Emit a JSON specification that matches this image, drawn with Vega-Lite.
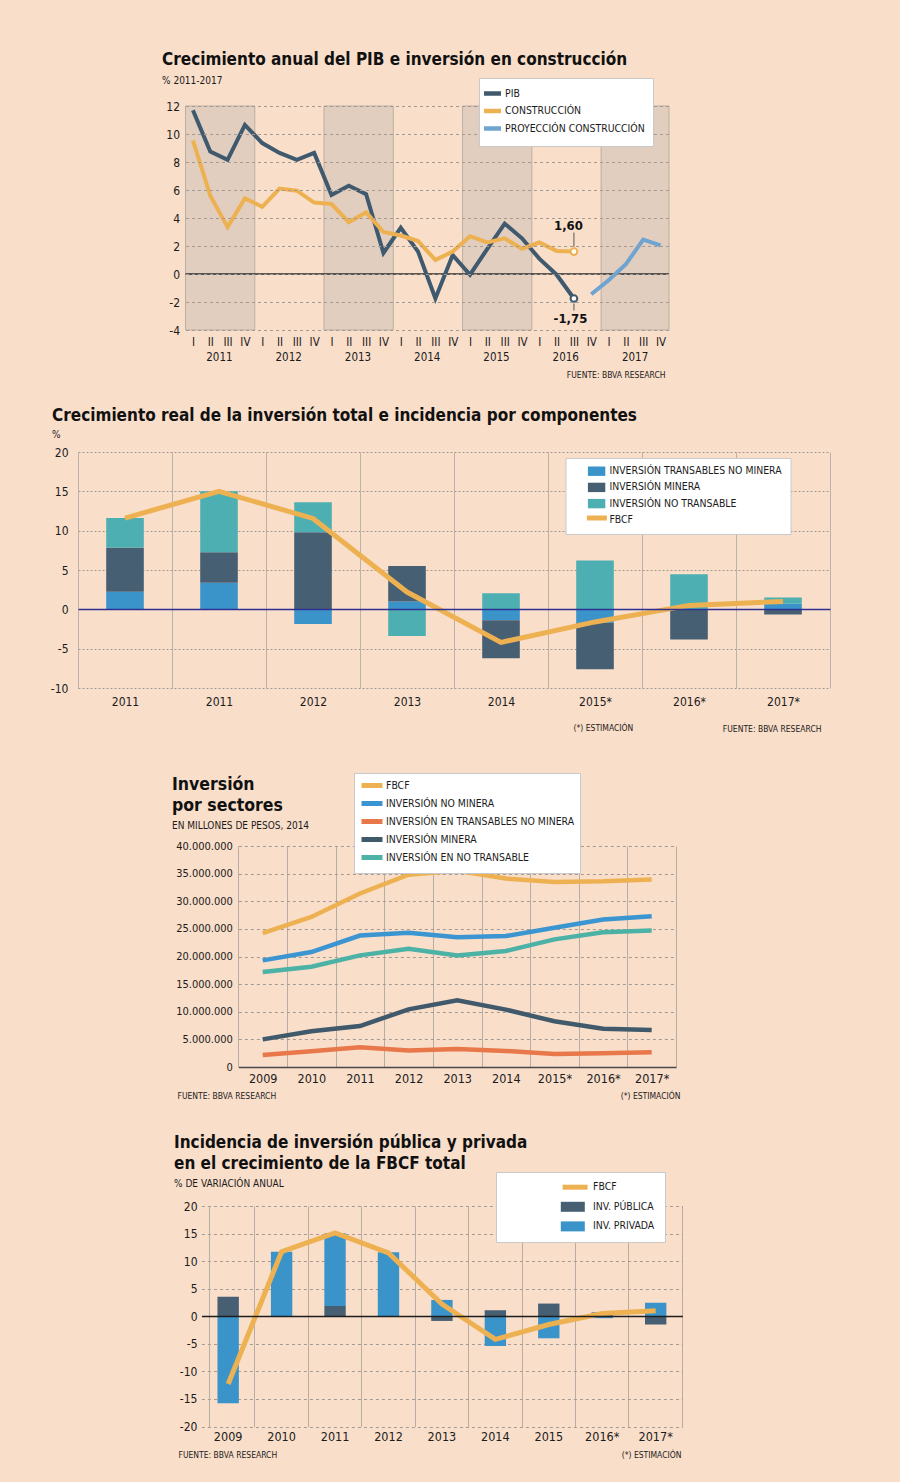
{
  "$schema": "https://vega.github.io/schema/vega-lite/v6.json",
  "background": "#F9DECA",
  "padding": 0,
  "bounds": "flush",
  "spacing": 0,
  "config": {
    "font": "DejaVu Sans Condensed",
    "view": {"stroke": null},
    "axis": {"labelColor": "#1b1b1b", "titleColor": "#1b1b1b", "titleFontWeight": "normal", "ticks": false, "domain": false, "labelFontSize": 12, "labelOverlap": false},
    "legend": {"labelColor": "#1b1b1b", "fillColor": "#ffffff", "strokeColor": "#c9c9c9", "labelFontSize": 10.4, "labelLimit": 320, "zindex": 2},
    "title": {"fontSize": 17, "fontWeight": "bold", "color": "#111111", "anchor": "start", "frame": "group", "subtitleFontSize": 10, "subtitleColor": "#1b1b1b"}
  },
  "datasets": {
    "p1bands": [
      {"x0": -0.43, "x1": 3.57}, {"x0": 7.57, "x1": 11.57}, {"x0": 15.57, "x1": 19.57}, {"x0": 23.57, "x1": 27.49}
    ],
    "p1": [
      {"q": 0, "s": "PIB", "v": 11.7}, {"q": 1, "s": "PIB", "v": 8.75}, {"q": 2, "s": "PIB", "v": 8.15}, {"q": 3, "s": "PIB", "v": 10.65},
      {"q": 4, "s": "PIB", "v": 9.35}, {"q": 5, "s": "PIB", "v": 8.65}, {"q": 6, "s": "PIB", "v": 8.15}, {"q": 7, "s": "PIB", "v": 8.65},
      {"q": 8, "s": "PIB", "v": 5.65}, {"q": 9, "s": "PIB", "v": 6.3}, {"q": 10, "s": "PIB", "v": 5.7}, {"q": 11, "s": "PIB", "v": 1.5},
      {"q": 12, "s": "PIB", "v": 3.3}, {"q": 13, "s": "PIB", "v": 1.6}, {"q": 14, "s": "PIB", "v": -1.75}, {"q": 15, "s": "PIB", "v": 1.35},
      {"q": 16, "s": "PIB", "v": -0.05}, {"q": 17, "s": "PIB", "v": 1.8}, {"q": 18, "s": "PIB", "v": 3.6}, {"q": 19, "s": "PIB", "v": 2.55},
      {"q": 20, "s": "PIB", "v": 1.1}, {"q": 21, "s": "PIB", "v": -0.05}, {"q": 22, "s": "PIB", "v": -1.75},
      {"q": 0, "s": "CONSTRUCCIÓN", "v": 9.55}, {"q": 1, "s": "CONSTRUCCIÓN", "v": 5.6}, {"q": 2, "s": "CONSTRUCCIÓN", "v": 3.35}, {"q": 3, "s": "CONSTRUCCIÓN", "v": 5.4},
      {"q": 4, "s": "CONSTRUCCIÓN", "v": 4.8}, {"q": 5, "s": "CONSTRUCCIÓN", "v": 6.1}, {"q": 6, "s": "CONSTRUCCIÓN", "v": 5.95}, {"q": 7, "s": "CONSTRUCCIÓN", "v": 5.1},
      {"q": 8, "s": "CONSTRUCCIÓN", "v": 5.0}, {"q": 9, "s": "CONSTRUCCIÓN", "v": 3.7}, {"q": 10, "s": "CONSTRUCCIÓN", "v": 4.4}, {"q": 11, "s": "CONSTRUCCIÓN", "v": 3.0},
      {"q": 12, "s": "CONSTRUCCIÓN", "v": 2.75}, {"q": 13, "s": "CONSTRUCCIÓN", "v": 2.35}, {"q": 14, "s": "CONSTRUCCIÓN", "v": 1.0}, {"q": 15, "s": "CONSTRUCCIÓN", "v": 1.6},
      {"q": 16, "s": "CONSTRUCCIÓN", "v": 2.7}, {"q": 17, "s": "CONSTRUCCIÓN", "v": 2.25}, {"q": 18, "s": "CONSTRUCCIÓN", "v": 2.55}, {"q": 19, "s": "CONSTRUCCIÓN", "v": 1.8},
      {"q": 20, "s": "CONSTRUCCIÓN", "v": 2.25}, {"q": 21, "s": "CONSTRUCCIÓN", "v": 1.65}, {"q": 22, "s": "CONSTRUCCIÓN", "v": 1.6},
      {"q": 23, "s": "PROYECCIÓN CONSTRUCCIÓN", "v": -1.45}, {"q": 24, "s": "PROYECCIÓN CONSTRUCCIÓN", "v": -0.45}, {"q": 25, "s": "PROYECCIÓN CONSTRUCCIÓN", "v": 0.7},
      {"q": 26, "s": "PROYECCIÓN CONSTRUCCIÓN", "v": 2.45}, {"q": 27, "s": "PROYECCIÓN CONSTRUCCIÓN", "v": 2.05}
    ],
    "p1pts": [
      {"q": 22, "v": 1.6, "s": "CONSTRUCCIÓN", "t": "1,60"},
      {"q": 22, "v": -1.75, "s": "PIB", "t": "-1,75"}
    ],
    "p2": [
      {"k": "2011", "s": "INVERSIÓN TRANSABLES NO MINERA", "o": 1, "v": 2.24},
      {"k": "2011", "s": "INVERSIÓN MINERA", "o": 2, "v": 5.58},
      {"k": "2011", "s": "INVERSIÓN NO TRANSABLE", "o": 3, "v": 3.78},
      {"k": "2011 ", "s": "INVERSIÓN TRANSABLES NO MINERA", "o": 1, "v": 3.38},
      {"k": "2011 ", "s": "INVERSIÓN MINERA", "o": 2, "v": 3.89},
      {"k": "2011 ", "s": "INVERSIÓN NO TRANSABLE", "o": 3, "v": 7.73},
      {"k": "2012", "s": "INVERSIÓN TRANSABLES NO MINERA", "o": 1, "v": -1.85},
      {"k": "2012", "s": "INVERSIÓN MINERA", "o": 2, "v": 9.8},
      {"k": "2012", "s": "INVERSIÓN NO TRANSABLE", "o": 3, "v": 3.8},
      {"k": "2013", "s": "INVERSIÓN TRANSABLES NO MINERA", "o": 1, "v": 0.98},
      {"k": "2013", "s": "INVERSIÓN MINERA", "o": 2, "v": 4.54},
      {"k": "2013", "s": "INVERSIÓN NO TRANSABLE", "o": 3, "v": -3.4},
      {"k": "2014", "s": "INVERSIÓN TRANSABLES NO MINERA", "o": 1, "v": -1.38},
      {"k": "2014", "s": "INVERSIÓN MINERA", "o": 2, "v": -4.85},
      {"k": "2014", "s": "INVERSIÓN NO TRANSABLE", "o": 3, "v": 2.05},
      {"k": "2015*", "s": "INVERSIÓN TRANSABLES NO MINERA", "o": 1, "v": -1.72},
      {"k": "2015*", "s": "INVERSIÓN MINERA", "o": 2, "v": -5.9},
      {"k": "2015*", "s": "INVERSIÓN NO TRANSABLE", "o": 3, "v": 6.2},
      {"k": "2016*", "s": "INVERSIÓN MINERA", "o": 2, "v": -3.85},
      {"k": "2016*", "s": "INVERSIÓN NO TRANSABLE", "o": 3, "v": 4.45},
      {"k": "2017*", "s": "INVERSIÓN TRANSABLES NO MINERA", "o": 1, "v": 0.7},
      {"k": "2017*", "s": "INVERSIÓN MINERA", "o": 2, "v": -0.65},
      {"k": "2017*", "s": "INVERSIÓN NO TRANSABLE", "o": 3, "v": 0.8}
    ],
    "p2f": [
      {"k": "2011", "s": "FBCF", "v": 11.6}, {"k": "2011 ", "s": "FBCF", "v": 15.0}, {"k": "2012", "s": "FBCF", "v": 11.55},
      {"k": "2013", "s": "FBCF", "v": 2.2}, {"k": "2014", "s": "FBCF", "v": -4.2}, {"k": "2015*", "s": "FBCF", "v": -1.6},
      {"k": "2016*", "s": "FBCF", "v": 0.5}, {"k": "2017*", "s": "FBCF", "v": 1.0}
    ],
    "p3": [
      {"k": "2009", "s": "FBCF", "v": 24250000}, {"k": "2010", "s": "FBCF", "v": 27150000}, {"k": "2011", "s": "FBCF", "v": 31400000},
      {"k": "2012", "s": "FBCF", "v": 34800000}, {"k": "2013", "s": "FBCF", "v": 35500000}, {"k": "2014", "s": "FBCF", "v": 34100000},
      {"k": "2015*", "s": "FBCF", "v": 33500000}, {"k": "2016*", "s": "FBCF", "v": 33600000}, {"k": "2017*", "s": "FBCF", "v": 33950000},
      {"k": "2009", "s": "INVERSIÓN NO MINERA", "v": 19300000}, {"k": "2010", "s": "INVERSIÓN NO MINERA", "v": 20800000}, {"k": "2011", "s": "INVERSIÓN NO MINERA", "v": 23800000},
      {"k": "2012", "s": "INVERSIÓN NO MINERA", "v": 24300000}, {"k": "2013", "s": "INVERSIÓN NO MINERA", "v": 23500000}, {"k": "2014", "s": "INVERSIÓN NO MINERA", "v": 23700000},
      {"k": "2015*", "s": "INVERSIÓN NO MINERA", "v": 25200000}, {"k": "2016*", "s": "INVERSIÓN NO MINERA", "v": 26700000}, {"k": "2017*", "s": "INVERSIÓN NO MINERA", "v": 27300000},
      {"k": "2009", "s": "INVERSIÓN EN TRANSABLES NO MINERA", "v": 2170000}, {"k": "2010", "s": "INVERSIÓN EN TRANSABLES NO MINERA", "v": 2840000}, {"k": "2011", "s": "INVERSIÓN EN TRANSABLES NO MINERA", "v": 3560000},
      {"k": "2012", "s": "INVERSIÓN EN TRANSABLES NO MINERA", "v": 3000000}, {"k": "2013", "s": "INVERSIÓN EN TRANSABLES NO MINERA", "v": 3260000}, {"k": "2014", "s": "INVERSIÓN EN TRANSABLES NO MINERA", "v": 2900000},
      {"k": "2015*", "s": "INVERSIÓN EN TRANSABLES NO MINERA", "v": 2350000}, {"k": "2016*", "s": "INVERSIÓN EN TRANSABLES NO MINERA", "v": 2470000}, {"k": "2017*", "s": "INVERSIÓN EN TRANSABLES NO MINERA", "v": 2650000},
      {"k": "2009", "s": "INVERSIÓN MINERA", "v": 5000000}, {"k": "2010", "s": "INVERSIÓN MINERA", "v": 6460000}, {"k": "2011", "s": "INVERSIÓN MINERA", "v": 7420000},
      {"k": "2012", "s": "INVERSIÓN MINERA", "v": 10440000}, {"k": "2013", "s": "INVERSIÓN MINERA", "v": 12070000}, {"k": "2014", "s": "INVERSIÓN MINERA", "v": 10380000},
      {"k": "2015*", "s": "INVERSIÓN MINERA", "v": 8270000}, {"k": "2016*", "s": "INVERSIÓN MINERA", "v": 6940000}, {"k": "2017*", "s": "INVERSIÓN MINERA", "v": 6700000},
      {"k": "2009", "s": "INVERSIÓN EN NO TRANSABLE", "v": 17200000}, {"k": "2010", "s": "INVERSIÓN EN NO TRANSABLE", "v": 18160000}, {"k": "2011", "s": "INVERSIÓN EN NO TRANSABLE", "v": 20200000},
      {"k": "2012", "s": "INVERSIÓN EN NO TRANSABLE", "v": 21400000}, {"k": "2013", "s": "INVERSIÓN EN NO TRANSABLE", "v": 20200000}, {"k": "2014", "s": "INVERSIÓN EN NO TRANSABLE", "v": 21000000},
      {"k": "2015*", "s": "INVERSIÓN EN NO TRANSABLE", "v": 23100000}, {"k": "2016*", "s": "INVERSIÓN EN NO TRANSABLE", "v": 24400000}, {"k": "2017*", "s": "INVERSIÓN EN NO TRANSABLE", "v": 24700000}
    ],
    "p4": [
      {"k": "2009", "s": "INV. PÚBLICA", "o": 1, "v": 3.56}, {"k": "2009", "s": "INV. PRIVADA", "o": 2, "v": -15.8},
      {"k": "2010", "s": "INV. PRIVADA", "o": 2, "v": 11.7},
      {"k": "2011", "s": "INV. PÚBLICA", "o": 1, "v": 1.87}, {"k": "2011", "s": "INV. PRIVADA", "o": 2, "v": 13.2},
      {"k": "2012", "s": "INV. PRIVADA", "o": 2, "v": 11.6},
      {"k": "2013", "s": "INV. PÚBLICA", "o": 1, "v": -0.85}, {"k": "2013", "s": "INV. PRIVADA", "o": 2, "v": 2.96},
      {"k": "2014", "s": "INV. PÚBLICA", "o": 1, "v": 1.09}, {"k": "2014", "s": "INV. PRIVADA", "o": 2, "v": -5.4},
      {"k": "2015", "s": "INV. PÚBLICA", "o": 1, "v": 2.3}, {"k": "2015", "s": "INV. PRIVADA", "o": 2, "v": -4.0},
      {"k": "2016*", "s": "INV. PÚBLICA", "o": 1, "v": 0.7}, {"k": "2016*", "s": "INV. PRIVADA", "o": 2, "v": -0.35},
      {"k": "2017*", "s": "INV. PÚBLICA", "o": 1, "v": -1.5}, {"k": "2017*", "s": "INV. PRIVADA", "o": 2, "v": 2.45}
    ],
    "p4f": [
      {"k": "2009", "s": "FBCF", "v": -12.3}, {"k": "2010", "s": "FBCF", "v": 11.7}, {"k": "2011", "s": "FBCF", "v": 15.1},
      {"k": "2012", "s": "FBCF", "v": 11.5}, {"k": "2013", "s": "FBCF", "v": 2.2}, {"k": "2014", "s": "FBCF", "v": -4.2},
      {"k": "2015", "s": "FBCF", "v": -1.5}, {"k": "2016*", "s": "FBCF", "v": 0.5}, {"k": "2017*", "s": "FBCF", "v": 1.0}
    ]
  },
  "resolve": {
    "scale": {"x": "independent", "y": "independent", "color": "independent", "stroke": "independent"},
    "axis": {"x": "independent", "y": "independent"},
    "legend": {"color": "independent", "stroke": "independent"}
  },
  "vconcat": [
    {"width": 900, "height": 106, "data": {"values": [{}]}, "mark": {"type": "point", "opacity": 0}, "encoding": {}},
    {
      "width": 900, "height": 224,
      "title": {"text": "Crecimiento anual del PIB e inversión en construcción", "subtitle": "% 2011-2017", "dx": 162, "dy": 28.5, "offset": 19, "subtitlePadding": 7},
      "layer": [
        {
          "data": {"name": "p1bands"},
          "mark": {"type": "rect", "fill": "#E2CEBE", "stroke": "#BCAEA2", "strokeWidth": 1},
          "encoding": {
            "x": {"field": "x0", "type": "quantitative", "scale": {"domain": [-0.43, 27.49], "range": [185.5, 669], "nice": false, "zero": false},
              "axis": {"values": [0,1,1.5,2,3,4,5,5.5,6,7,8,9,9.5,10,11,12,13,13.5,14,15,16,17,17.5,18,19,20,21,21.5,22,23,24,25,25.5,26,27], "labelExpr": "datum.value % 1 !== 0 ? ['', '' + (2011 + floor(datum.value / 4))] : (datum.value % 4 === 0 ? 'I' : datum.value % 4 === 1 ? 'II' : datum.value % 4 === 2 ? 'III' : 'IV')", "labelFontSize": 11.5, "labelPadding": 6, "labelBaseline": "top", "labelLineHeight": 15, "labelFlush": false, "labelOverlap": false, "labelBound": false, "labelAngle": 0, "grid": false, "title": null}},
            "x2": {"field": "x1"}
          }
        },
        {
          "data": {"values": [{}]},
          "mark": {"type": "rule", "color": "#2b2b2b", "strokeWidth": 1.3},
          "encoding": {
            "x": {"datum": -0.43, "type": "quantitative",
              "axis": {"values": [0,1,1.5,2,3,4,5,5.5,6,7,8,9,9.5,10,11,12,13,13.5,14,15,16,17,17.5,18,19,20,21,21.5,22,23,24,25,25.5,26,27], "labelExpr": "datum.value % 1 !== 0 ? ['', '' + (2011 + floor(datum.value / 4))] : (datum.value % 4 === 0 ? 'I' : datum.value % 4 === 1 ? 'II' : datum.value % 4 === 2 ? 'III' : 'IV')", "labelFontSize": 11.5, "labelPadding": 6, "labelBaseline": "top", "labelLineHeight": 15, "labelFlush": false, "labelOverlap": false, "labelBound": false, "labelAngle": 0, "grid": false, "title": null}},
            "x2": {"datum": 27.49},
            "y": {"datum": 0, "type": "quantitative", "scale": {"domain": [-4, 12], "nice": false, "zero": false},
              "axis": {"values": [-4,-2,0,2,4,6,8,10,12], "labelExpr": "'' + datum.value", "offset": -185.5, "labelPadding": 6, "labelFontSize": 12, "labelOverlap": false, "grid": true, "gridColor": "#A39A93", "gridDash": [3, 3], "zindex": 1, "title": "FUENTE: BBVA RESEARCH", "titleAngle": 0, "titleX": 479.5, "titleY": 268, "titleAlign": "right", "titleBaseline": "middle", "titleFontSize": 8.5}}
          }
        },
        {
          "data": {"name": "p1"},
          "mark": {"type": "line", "strokeWidth": 4},
          "encoding": {
            "x": {"field": "q", "type": "quantitative",
              "axis": {"values": [0,1,1.5,2,3,4,5,5.5,6,7,8,9,9.5,10,11,12,13,13.5,14,15,16,17,17.5,18,19,20,21,21.5,22,23,24,25,25.5,26,27], "labelExpr": "datum.value % 1 !== 0 ? ['', '' + (2011 + floor(datum.value / 4))] : (datum.value % 4 === 0 ? 'I' : datum.value % 4 === 1 ? 'II' : datum.value % 4 === 2 ? 'III' : 'IV')", "labelFontSize": 11.5, "labelPadding": 6, "labelBaseline": "top", "labelLineHeight": 15, "labelFlush": false, "labelOverlap": false, "labelBound": false, "labelAngle": 0, "grid": false, "title": null}},
            "y": {"field": "v", "type": "quantitative",
              "axis": {"values": [-4,-2,0,2,4,6,8,10,12], "labelExpr": "'' + datum.value", "offset": -185.5, "labelPadding": 6, "labelFontSize": 12, "labelOverlap": false, "grid": true, "gridColor": "#A39A93", "gridDash": [3, 3], "zindex": 1, "title": "FUENTE: BBVA RESEARCH", "titleAngle": 0, "titleX": 479.5, "titleY": 268, "titleAlign": "right", "titleBaseline": "middle", "titleFontSize": 8.5}},
            "color": {"field": "s", "type": "nominal",
              "scale": {"domain": ["PIB", "CONSTRUCCIÓN", "PROYECCIÓN CONSTRUCCIÓN"], "range": ["#3F5A6E", "#EEB152", "#6FA4D0"]},
              "legend": {"orient": "none", "legendX": 479, "legendY": -28, "title": null, "symbolType": "M-1.7,0H1.7", "symbolStrokeWidth": 4.5, "symbolSize": 100,
                "labelFontSize": 10.4, "padding": 8, "symbolOffset": -2, "rowPadding": -1.5, "labelOffset": 5}
            }
          }
        },
        {
          "data": {"name": "p1pts"},
          "transform": [{"filter": "datum.s === 'CONSTRUCCIÓN'"}],
          "mark": {"type": "rule", "color": "#555555", "strokeWidth": 1, "yOffset": -5, "y2Offset": -19},
          "encoding": {
            "x": {"field": "q", "type": "quantitative",
              "axis": {"values": [0,1,1.5,2,3,4,5,5.5,6,7,8,9,9.5,10,11,12,13,13.5,14,15,16,17,17.5,18,19,20,21,21.5,22,23,24,25,25.5,26,27], "labelExpr": "datum.value % 1 !== 0 ? ['', '' + (2011 + floor(datum.value / 4))] : (datum.value % 4 === 0 ? 'I' : datum.value % 4 === 1 ? 'II' : datum.value % 4 === 2 ? 'III' : 'IV')", "labelFontSize": 11.5, "labelPadding": 6, "labelBaseline": "top", "labelLineHeight": 15, "labelFlush": false, "labelOverlap": false, "labelBound": false, "labelAngle": 0, "grid": false, "title": null}},
            "y": {"field": "v", "type": "quantitative",
              "axis": {"values": [-4,-2,0,2,4,6,8,10,12], "labelExpr": "'' + datum.value", "offset": -185.5, "labelPadding": 6, "labelFontSize": 12, "labelOverlap": false, "grid": true, "gridColor": "#A39A93", "gridDash": [3, 3], "zindex": 1, "title": "FUENTE: BBVA RESEARCH", "titleAngle": 0, "titleX": 479.5, "titleY": 268, "titleAlign": "right", "titleBaseline": "middle", "titleFontSize": 8.5}},
            "y2": {"field": "v"}
          }
        },
        {
          "data": {"name": "p1pts"},
          "transform": [{"filter": "datum.s === 'PIB'"}],
          "mark": {"type": "rule", "color": "#555555", "strokeWidth": 1, "yOffset": 5, "y2Offset": 12},
          "encoding": {
            "x": {"field": "q", "type": "quantitative",
              "axis": {"values": [0,1,1.5,2,3,4,5,5.5,6,7,8,9,9.5,10,11,12,13,13.5,14,15,16,17,17.5,18,19,20,21,21.5,22,23,24,25,25.5,26,27], "labelExpr": "datum.value % 1 !== 0 ? ['', '' + (2011 + floor(datum.value / 4))] : (datum.value % 4 === 0 ? 'I' : datum.value % 4 === 1 ? 'II' : datum.value % 4 === 2 ? 'III' : 'IV')", "labelFontSize": 11.5, "labelPadding": 6, "labelBaseline": "top", "labelLineHeight": 15, "labelFlush": false, "labelOverlap": false, "labelBound": false, "labelAngle": 0, "grid": false, "title": null}},
            "y": {"field": "v", "type": "quantitative",
              "axis": {"values": [-4,-2,0,2,4,6,8,10,12], "labelExpr": "'' + datum.value", "offset": -185.5, "labelPadding": 6, "labelFontSize": 12, "labelOverlap": false, "grid": true, "gridColor": "#A39A93", "gridDash": [3, 3], "zindex": 1, "title": "FUENTE: BBVA RESEARCH", "titleAngle": 0, "titleX": 479.5, "titleY": 268, "titleAlign": "right", "titleBaseline": "middle", "titleFontSize": 8.5}},
            "y2": {"field": "v"}
          }
        },
        {
          "data": {"name": "p1pts"},
          "transform": [{"filter": "datum.s === 'CONSTRUCCIÓN'"}],
          "mark": {"type": "point", "filled": true, "fill": "#ffffff", "stroke": "#EEB152", "strokeWidth": 2, "size": 45, "opacity": 1},
          "encoding": {
            "x": {"field": "q", "type": "quantitative",
              "axis": {"values": [0,1,1.5,2,3,4,5,5.5,6,7,8,9,9.5,10,11,12,13,13.5,14,15,16,17,17.5,18,19,20,21,21.5,22,23,24,25,25.5,26,27], "labelExpr": "datum.value % 1 !== 0 ? ['', '' + (2011 + floor(datum.value / 4))] : (datum.value % 4 === 0 ? 'I' : datum.value % 4 === 1 ? 'II' : datum.value % 4 === 2 ? 'III' : 'IV')", "labelFontSize": 11.5, "labelPadding": 6, "labelBaseline": "top", "labelLineHeight": 15, "labelFlush": false, "labelOverlap": false, "labelBound": false, "labelAngle": 0, "grid": false, "title": null}},
            "y": {"field": "v", "type": "quantitative",
              "axis": {"values": [-4,-2,0,2,4,6,8,10,12], "labelExpr": "'' + datum.value", "offset": -185.5, "labelPadding": 6, "labelFontSize": 12, "labelOverlap": false, "grid": true, "gridColor": "#A39A93", "gridDash": [3, 3], "zindex": 1, "title": "FUENTE: BBVA RESEARCH", "titleAngle": 0, "titleX": 479.5, "titleY": 268, "titleAlign": "right", "titleBaseline": "middle", "titleFontSize": 8.5}}
          }
        },
        {
          "data": {"name": "p1pts"},
          "transform": [{"filter": "datum.s === 'PIB'"}],
          "mark": {"type": "point", "filled": true, "fill": "#ffffff", "stroke": "#3F5A6E", "strokeWidth": 2, "size": 45, "opacity": 1},
          "encoding": {
            "x": {"field": "q", "type": "quantitative",
              "axis": {"values": [0,1,1.5,2,3,4,5,5.5,6,7,8,9,9.5,10,11,12,13,13.5,14,15,16,17,17.5,18,19,20,21,21.5,22,23,24,25,25.5,26,27], "labelExpr": "datum.value % 1 !== 0 ? ['', '' + (2011 + floor(datum.value / 4))] : (datum.value % 4 === 0 ? 'I' : datum.value % 4 === 1 ? 'II' : datum.value % 4 === 2 ? 'III' : 'IV')", "labelFontSize": 11.5, "labelPadding": 6, "labelBaseline": "top", "labelLineHeight": 15, "labelFlush": false, "labelOverlap": false, "labelBound": false, "labelAngle": 0, "grid": false, "title": null}},
            "y": {"field": "v", "type": "quantitative",
              "axis": {"values": [-4,-2,0,2,4,6,8,10,12], "labelExpr": "'' + datum.value", "offset": -185.5, "labelPadding": 6, "labelFontSize": 12, "labelOverlap": false, "grid": true, "gridColor": "#A39A93", "gridDash": [3, 3], "zindex": 1, "title": "FUENTE: BBVA RESEARCH", "titleAngle": 0, "titleX": 479.5, "titleY": 268, "titleAlign": "right", "titleBaseline": "middle", "titleFontSize": 8.5}}
          }
        },
        {
          "data": {"name": "p1pts"},
          "transform": [{"filter": "datum.s === 'CONSTRUCCIÓN'"}],
          "mark": {"type": "text", "fontWeight": "bold", "fontSize": 13, "dx": -5.5, "dy": -26, "color": "#111111"},
          "encoding": {
            "x": {"field": "q", "type": "quantitative",
              "axis": {"values": [0,1,1.5,2,3,4,5,5.5,6,7,8,9,9.5,10,11,12,13,13.5,14,15,16,17,17.5,18,19,20,21,21.5,22,23,24,25,25.5,26,27], "labelExpr": "datum.value % 1 !== 0 ? ['', '' + (2011 + floor(datum.value / 4))] : (datum.value % 4 === 0 ? 'I' : datum.value % 4 === 1 ? 'II' : datum.value % 4 === 2 ? 'III' : 'IV')", "labelFontSize": 11.5, "labelPadding": 6, "labelBaseline": "top", "labelLineHeight": 15, "labelFlush": false, "labelOverlap": false, "labelBound": false, "labelAngle": 0, "grid": false, "title": null}},
            "y": {"field": "v", "type": "quantitative",
              "axis": {"values": [-4,-2,0,2,4,6,8,10,12], "labelExpr": "'' + datum.value", "offset": -185.5, "labelPadding": 6, "labelFontSize": 12, "labelOverlap": false, "grid": true, "gridColor": "#A39A93", "gridDash": [3, 3], "zindex": 1, "title": "FUENTE: BBVA RESEARCH", "titleAngle": 0, "titleX": 479.5, "titleY": 268, "titleAlign": "right", "titleBaseline": "middle", "titleFontSize": 8.5}},
            "text": {"field": "t"}
          }
        },
        {
          "data": {"name": "p1pts"},
          "transform": [{"filter": "datum.s === 'PIB'"}],
          "mark": {"type": "text", "fontWeight": "bold", "fontSize": 13, "dx": -3.5, "dy": 20, "color": "#111111"},
          "encoding": {
            "x": {"field": "q", "type": "quantitative",
              "axis": {"values": [0,1,1.5,2,3,4,5,5.5,6,7,8,9,9.5,10,11,12,13,13.5,14,15,16,17,17.5,18,19,20,21,21.5,22,23,24,25,25.5,26,27], "labelExpr": "datum.value % 1 !== 0 ? ['', '' + (2011 + floor(datum.value / 4))] : (datum.value % 4 === 0 ? 'I' : datum.value % 4 === 1 ? 'II' : datum.value % 4 === 2 ? 'III' : 'IV')", "labelFontSize": 11.5, "labelPadding": 6, "labelBaseline": "top", "labelLineHeight": 15, "labelFlush": false, "labelOverlap": false, "labelBound": false, "labelAngle": 0, "grid": false, "title": null}},
            "y": {"field": "v", "type": "quantitative",
              "axis": {"values": [-4,-2,0,2,4,6,8,10,12], "labelExpr": "'' + datum.value", "offset": -185.5, "labelPadding": 6, "labelFontSize": 12, "labelOverlap": false, "grid": true, "gridColor": "#A39A93", "gridDash": [3, 3], "zindex": 1, "title": "FUENTE: BBVA RESEARCH", "titleAngle": 0, "titleX": 479.5, "titleY": 268, "titleAlign": "right", "titleBaseline": "middle", "titleFontSize": 8.5}},
            "text": {"field": "t"}
          }
        }
      ]
    },
    {"width": 900, "height": 122, "data": {"values": [{}]}, "mark": {"type": "point", "opacity": 0}, "encoding": {}},
    {
      "width": 900, "height": 236,
      "title": {"text": "Crecimiento real de la inversión total e incidencia por componentes", "subtitle": "%", "dx": 52, "dy": 9, "offset": 14, "subtitlePadding": 5},
      "resolve": {"axis": {"y": "independent"}},
      "layer": [
        {
          "data": {"name": "p2"},
          "mark": {"type": "bar", "width": {"band": 0.4}},
          "encoding": {
            "x": {"field": "k", "type": "nominal",
              "scale": {"type": "band", "domain": ["2011", "2011 ", "2012", "2013", "2014", "2015*", "2016*", "2017*"], "range": [78, 830], "paddingInner": 0, "paddingOuter": 0},
              "axis": {"labelExpr": "trim(datum.label)", "tickBand": "extent", "grid": true, "gridColor": "#BDB2A9", "gridWidth": 1, "labelPadding": 8, "labelFontSize": 12, "labelAngle": 0,
                "title": "(*) ESTIMACIÓN", "titleX": 573, "titleY": 39.7, "titleAlign": "left", "titleBaseline": "middle", "titleFontSize": 8.5}
            },
            "y": {"field": "v", "type": "quantitative", "stack": "zero", "scale": {"domain": [-10, 20], "nice": false, "zero": false},
              "axis": {"values": [-10,-5,0,5,10,15,20], "labelExpr": "'' + datum.value", "offset": -78, "labelPadding": 10, "labelFontSize": 12, "grid": true, "gridColor": "#A39A93", "gridDash": [2, 2],
                "title": "FUENTE: BBVA RESEARCH", "titleAngle": 0, "titleX": 743, "titleY": 276, "titleAlign": "right", "titleBaseline": "middle", "titleFontSize": 8.5}
            },
            "color": {"field": "s", "type": "nominal",
              "scale": {"domain": ["INVERSIÓN TRANSABLES NO MINERA", "INVERSIÓN MINERA", "INVERSIÓN NO TRANSABLE", "FBCF"], "range": ["#3A94C9", "#465F73", "#4DAFB2", "transparent"]},
              "legend": {"orient": "none", "legendX": 565.5, "legendY": 6, "title": null, "symbolType": "M-1.74,-0.94H1.74V0.94H-1.74Z", "symbolSize": 100, "symbolStrokeWidth": 0,
                "labelFontSize": 10.4, "padding": 8, "symbolOffset": 17.9, "labelOffset": 7.6, "rowPadding": 5.2}
            },
            "order": {"field": "o", "type": "quantitative"}
          }
        },
        {
          "data": {"name": "p2f"},
          "mark": {"type": "line", "strokeWidth": 5},
          "encoding": {
            "x": {"field": "k", "type": "nominal", "bandPosition": 0.5},
            "y": {"field": "v", "type": "quantitative",
              "axis": {"orient": "left", "offset": -78, "values": [0], "grid": true, "gridColor": "#2E3192", "gridWidth": 1.6, "labels": false, "title": null, "zindex": 1}
            },
            "stroke": {"field": "s", "type": "nominal", "scale": {"domain": ["FBCF"], "range": ["#EEB152"]},
              "legend": {"orient": "none", "legendX": 589.4, "legendY": 58.5, "title": null, "symbolType": "M-2,0H2", "symbolSize": 100, "symbolStrokeWidth": 5,
                "labelExpr": "''", "fillColor": "transparent", "strokeColor": "transparent", "padding": 0, "zindex": 3}
            }
          }
        }
      ]
    },
    {"width": 900, "height": 158, "data": {"values": [{}]}, "mark": {"type": "point", "opacity": 0}, "encoding": {}},
    {
      "width": 900, "height": 221,
      "title": {"text": ["Inversión", "por sectores"], "subtitle": "EN MILLONES DE PESOS, 2014", "dx": 172, "dy": 75, "offset": 17, "lineHeight": 21, "fontSize": 17.5, "subtitlePadding": 6},
      "data": {"name": "p3"},
      "mark": {"type": "line", "strokeWidth": 4.5},
      "encoding": {
        "x": {"field": "k", "type": "nominal", "bandPosition": 0.5,
          "scale": {"type": "band", "domain": ["2009", "2010", "2011", "2012", "2013", "2014", "2015*", "2016*", "2017*"], "range": [238.4, 676], "paddingInner": 0, "paddingOuter": 0},
          "axis": {"tickBand": "extent", "grid": true, "gridColor": "#B8ADA4", "domain": true, "domainColor": "#4a4a4a", "domainWidth": 1.5, "labelPadding": 5, "labelFontSize": 12.5, "labelAngle": 0,
            "title": "(*) ESTIMACIÓN", "titleX": 680, "titleY": 28, "titleAlign": "right", "titleBaseline": "middle", "titleFontSize": 8.5}
        },
        "y": {"field": "v", "type": "quantitative", "scale": {"domain": [0, 40000000], "nice": false},
          "axis": {"values": [0, 5000000, 10000000, 15000000, 20000000, 25000000, 30000000, 35000000, 40000000],
            "labelExpr": "replace(replace(format(datum.value, ',d'), ',', '.'), ',', '.')",
            "offset": -238.4, "labelPadding": 6, "labelFontSize": 11, "grid": true, "gridColor": "#A39A93", "gridDash": [3, 3],
            "title": "FUENTE: BBVA RESEARCH", "titleAngle": 0, "titleX": -61.4, "titleY": 249, "titleAlign": "left", "titleBaseline": "middle", "titleFontSize": 8.5}
        },
        "color": {"field": "s", "type": "nominal",
          "scale": {"domain": ["FBCF", "INVERSIÓN NO MINERA", "INVERSIÓN EN TRANSABLES NO MINERA", "INVERSIÓN MINERA", "INVERSIÓN EN NO TRANSABLE"], "range": ["#EEB152", "#3A95D0", "#E8784A", "#40596B", "#4CB2A6"]},
          "legend": {"orient": "none", "legendX": 354, "legendY": -73, "title": null, "symbolType": "M-2.1,0H2.1", "symbolStrokeWidth": 5, "symbolSize": 100,
            "labelFontSize": 10.4, "padding": 5, "symbolOffset": 5.5, "rowPadding": -8.4, "labelOffset": 6.5}
        }
      }
    },
    {"width": 900, "height": 139, "data": {"values": [{}]}, "mark": {"type": "point", "opacity": 0}, "encoding": {}},
    {
      "width": 900, "height": 220.5,
      "title": {"text": ["Incidencia de inversión pública y privada", "en el crecimiento de la FBCF total"], "subtitle": "% DE VARIACIÓN ANUAL", "dx": 174, "dy": 35.5, "offset": 17, "lineHeight": 21, "subtitlePadding": 6},
      "resolve": {"axis": {"y": "independent"}},
      "layer": [
        {
          "data": {"name": "p4"},
          "mark": {"type": "bar", "width": {"band": 0.4}},
          "encoding": {
            "x": {"field": "k", "type": "nominal",
              "scale": {"type": "band", "domain": ["2009", "2010", "2011", "2012", "2013", "2014", "2015", "2016*", "2017*"], "range": [201.44, 682.4], "paddingInner": 0, "paddingOuter": 0},
              "axis": {"bandPosition": 1, "grid": true, "gridColor": "#B8ADA4", "labelPadding": 4, "labelFontSize": 12.5, "labelAngle": 0,
                "title": "(*) ESTIMACIÓN", "titleX": 681, "titleY": 27.5, "titleAlign": "right", "titleBaseline": "middle", "titleFontSize": 8.5}
            },
            "y": {"field": "v", "type": "quantitative", "stack": "zero", "scale": {"domain": [-20, 20], "nice": false, "zero": false},
              "axis": {"values": [-20,-15,-10,-5,0,5,10,15,20], "labelExpr": "'' + datum.value", "offset": -209, "labelPadding": 12, "labelFontSize": 12, "grid": true, "gridColor": "#A39A93", "gridDash": [3, 3],
                "domain": true, "domainColor": "#B8ADA4",
                "title": "FUENTE: BBVA RESEARCH", "titleAngle": 0, "titleX": -31, "titleY": 248, "titleAlign": "left", "titleBaseline": "middle", "titleFontSize": 8.5}
            },
            "color": {"field": "s", "type": "nominal",
              "scale": {"domain": ["FBCF", "INV. PÚBLICA", "INV. PRIVADA"], "range": ["transparent", "#465F73", "#3A94C9"]},
              "legend": {"orient": "none", "legendX": 496, "legendY": -34, "title": null, "symbolType": "M-2.4,-1H2.4V1H-2.4Z", "symbolSize": 100, "symbolStrokeWidth": 0,
                "labelFontSize": 10.4, "padding": 10, "symbolOffset": 61.6, "labelOffset": 15.1, "rowPadding": 8.6}
            },
            "order": {"field": "o", "type": "quantitative"}
          }
        },
        {
          "data": {"name": "p4f"},
          "mark": {"type": "line", "strokeWidth": 5},
          "encoding": {
            "x": {"field": "k", "type": "nominal", "bandPosition": 0.5},
            "y": {"field": "v", "type": "quantitative",
              "axis": {"orient": "left", "offset": -209, "values": [0], "grid": true, "gridColor": "#1e1e1e", "gridWidth": 1.5, "labels": false, "title": null, "zindex": 1}
            },
            "stroke": {"field": "s", "type": "nominal", "scale": {"domain": ["FBCF"], "range": ["#EEB152"]},
              "legend": {"orient": "none", "legendX": 567.6, "legendY": -26.3, "title": null, "symbolType": "M-2.5,0H2.5", "symbolSize": 100, "symbolStrokeWidth": 5,
                "labelExpr": "''", "fillColor": "transparent", "strokeColor": "transparent", "padding": 0, "zindex": 3}
            }
          }
        }
      ]
    },
    {"width": 900, "height": 55.5, "data": {"values": [{}]}, "mark": {"type": "point", "opacity": 0}, "encoding": {}}
  ]
}
